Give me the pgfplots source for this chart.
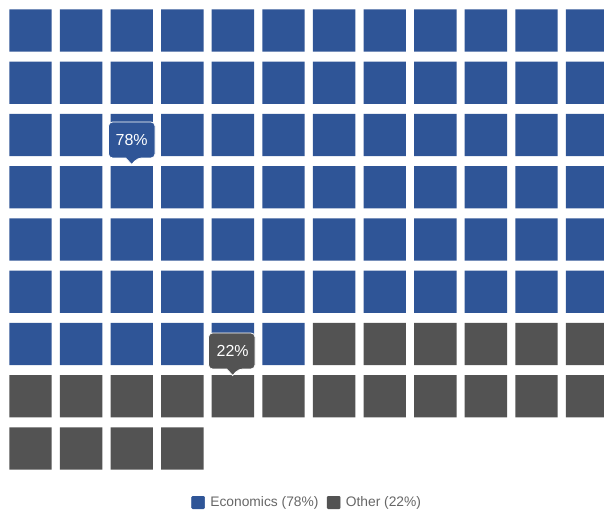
\documentclass[border=0pt]{standalone}
\usepackage{pgfplots}
\pgfplotsset{compat=1.18}
\usepackage{fontspec}
\setmainfont{Liberation Sans}
\definecolor{ecoblue}{RGB}{47,85,151}
\definecolor{othergrey}{RGB}{83,83,83}
\definecolor{legtext}{RGB}{102,102,102}
\pgfdeclareplotmark{rsq}{%
  \pgfsetcornersarced{\pgfpoint{2.5bp}{2.5bp}}%
  \pgfpathmoveto{\pgfpoint{-21.2bp}{0bp}}%
  \pgfpathlineto{\pgfpoint{-21.2bp}{21.2bp}}%
  \pgfpathlineto{\pgfpoint{21.2bp}{21.2bp}}%
  \pgfpathlineto{\pgfpoint{21.2bp}{-21.2bp}}%
  \pgfpathlineto{\pgfpoint{-21.2bp}{-21.2bp}}%
  \pgfpathclose
  \pgfusepathqfill
}
\pgfplotstableread{
x y
30.5 30.5
81.1 30.5
131.7 30.5
182.3 30.5
232.9 30.5
283.5 30.5
334.1 30.5
384.7 30.5
435.3 30.5
485.9 30.5
536.5 30.5
587.1 30.5
30.5 82.75
81.1 82.75
131.7 82.75
182.3 82.75
232.9 82.75
283.5 82.75
334.1 82.75
384.7 82.75
435.3 82.75
485.9 82.75
536.5 82.75
587.1 82.75
30.5 135
81.1 135
131.7 135
182.3 135
232.9 135
283.5 135
334.1 135
384.7 135
435.3 135
485.9 135
536.5 135
587.1 135
30.5 187.25
81.1 187.25
131.7 187.25
182.3 187.25
232.9 187.25
283.5 187.25
334.1 187.25
384.7 187.25
435.3 187.25
485.9 187.25
536.5 187.25
587.1 187.25
30.5 239.5
81.1 239.5
131.7 239.5
182.3 239.5
232.9 239.5
283.5 239.5
334.1 239.5
384.7 239.5
435.3 239.5
485.9 239.5
536.5 239.5
587.1 239.5
30.5 291.75
81.1 291.75
131.7 291.75
182.3 291.75
232.9 291.75
283.5 291.75
334.1 291.75
384.7 291.75
435.3 291.75
485.9 291.75
536.5 291.75
587.1 291.75
30.5 344
81.1 344
131.7 344
182.3 344
232.9 344
283.5 344
}\economics
\pgfplotstableread{
x y
334.1 344
384.7 344
435.3 344
485.9 344
536.5 344
587.1 344
30.5 396.25
81.1 396.25
131.7 396.25
182.3 396.25
232.9 396.25
283.5 396.25
334.1 396.25
384.7 396.25
435.3 396.25
485.9 396.25
536.5 396.25
587.1 396.25
30.5 448.5
81.1 448.5
131.7 448.5
182.3 448.5
}\other
\begin{document}
\begin{tikzpicture}
\useasboundingbox (0,0) rectangle (604bp,511bp);
\begin{axis}[
  at={(0,0)}, anchor=south west,
  scale only axis, width=604bp, height=511bp,
  xmin=0, xmax=604, ymin=0, ymax=511, y dir=reverse,
  hide axis,
  legend columns=2,
  legend style={draw=none, fill=none, at={(axis cs:309,502.5)}, anchor=center,
    font=\fontsize{13.8bp}{16bp}\selectfont, text=legtext,
    inner sep=0pt,
    /tikz/every even column/.append style={column sep=3bp},
    nodes={inner xsep=5.5bp}},
  legend image code/.code={\fill[#1, rounded corners=1bp] (0bp,-6.3bp) rectangle (13bp,6.3bp);},
]
\addplot[only marks, mark=rsq, color=ecoblue] table {\economics};
\addlegendentry{Economics (78\%)}
\addplot[only marks, mark=rsq, color=othergrey] table {\other};
\addlegendentry{Other (22\%)}
\coordinate (a1) at (axis cs:108.5,122);
\coordinate (a2) at (axis cs:155,158);
\coordinate (at) at (axis cs:131.7,164.5);
\coordinate (ac) at (axis cs:131.7,140);
\coordinate (b1) at (axis cs:208.5,333);
\coordinate (b2) at (axis cs:255,369);
\coordinate (bt) at (axis cs:232.7,375.5);
\coordinate (bc) at (axis cs:232.7,351);
\end{axis}
% tooltips (annotations)
\draw[fill=ecoblue, draw=white, line width=0.8bp, rounded corners=4bp]
  (a1) -- (a1 -| a2) -- (a2) -- ([xshift=6bp]at |- a2)
  [sharp corners] -- (at) -- ([xshift=-6bp]at |- a2)
  [rounded corners=4bp] -- (a1 |- a2) -- cycle;
\node[text=white, font=\fontsize{16bp}{19bp}\selectfont] at (ac) {78\%};
\draw[fill=othergrey, draw=white, line width=0.8bp, rounded corners=4bp]
  (b1) -- (b1 -| b2) -- (b2) -- ([xshift=6bp]bt |- b2)
  [sharp corners] -- (bt) -- ([xshift=-6bp]bt |- b2)
  [rounded corners=4bp] -- (b1 |- b2) -- cycle;
\node[text=white, font=\fontsize{16bp}{19bp}\selectfont] at (bc) {22\%};
\end{tikzpicture}
\end{document}
